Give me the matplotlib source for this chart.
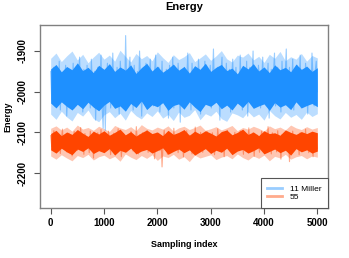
import numpy as np
import matplotlib
matplotlib.use("Agg")
import matplotlib.pyplot as plt

plt.rcParams["font.family"] = ["Liberation Sans", "DejaVu Sans"]

# energy traces (thinned samples)
energy_miller = [
    -1950, -2020, -1975, -1940, -2035, -1990, -1960, -2010, -1925, -2045, -1980, -1955, -2025, -1970, -1935, -2060, -1995, -1945, -2015, -1965, -2005, -1930, -2040, -1985, -1950,
    -2030, -1960, -1915, -2010, -1975, -2050, -1945, -1990, -2020, -1935, -2000, -1965, -2040, -1920, -1985, -2015, -1950, -2070, -1970, -1940, -2025, -1995, -1910, -2035, -2090,
    -1960, -2095, -1975, -1930, -2015, -1950, -2040, -1985, -1905, -2005, -1960, -2030, -1940, -1995, -2055, -1925, -1970, -2010, -1945, -2020, -1862, -1990, -2035, -1955, -1915,
    -2000, -1965, -2045, -1935, -1980, -2025, -1950, -2010, -1900, -1975, -2060, -1945, -1990, -2015, -1930, -1970, -2040, -1960, -1920, -2005, -1985, -2035, -1950, -1910, -2020,
    -1975, -1940, -2050, -1995, -1925, -2010, -1960, -2030, -1945, -1985, -2065, -1935, -1970, -2000, -1915, -2040, -1955, -1990, -2020, -1930, -1980, -2075, -1950, -1965, -2010,
    -1940, -2025, -1975, -1905, -2000, -1960, -2045, -1930, -1985, -2015, -1950, -1995, -2035, -1920, -1970, -2055, -1945, -2005, -1965, -1925, -2030, -1980, -1955, -2010, -1935,
    -2040, -1975, -1895, -2000, -1960, -2025, -1940, -1990, -2070, -1950, -1915, -2015, -1970, -2035, -1930, -1985, -2005, -1945, -2050, -1965, -1920, -2020, -1980, -1940, -2000,
    -1960, -2030, -1910, -1995, -2045, -1950, -1975, -2015, -1925, -2060, -1985, -1940, -2005, -1970, -1900, -2035, -1955, -1990, -2020, -1935, -1965, -2040, -1980, -1915, -2010,
    -1950, -2025, -1975, -1930, -2065, -1995, -1945, -2010, -1960, -1905, -2035, -1980, -1940, -2020, -1970, -2050, -1925, -1990, -2005, -1955, -1895, -2030, -1965, -1940, -2015,
    -1985, -1920, -2045, -1960, -2000, -1935, -2025, -1975, -1910, -2040, -1950, -1995, -2015, -1930, -1970, -2055, -1945, -1985, -2020, -1905, -1965, -2035, -1950, -1925, -2000,
]
energy_55 = [
    -2108, -2135, -2118, -2096, -2142, -2125, -2104, -2131, -2114, -2152, -2120, -2092, -2138, -2127, -2110, -2148, -2122, -2102, -2133, -2116, -2158, -2119, -2098, -2140, -2124,
    -2144, -2109, -2128, -2088, -2134, -2117, -2154, -2103, -2139, -2123, -2112, -2150, -2097, -2132, -2119, -2163, -2107, -2129, -2145, -2101, -2124, -2137, -2093, -2133, -2118,
    -2149, -2106, -2127, -2139, -2097, -2121, -2155, -2113, -2134, -2102, -2143, -2117, -2128, -2091, -2138, -2112, -2160, -2123, -2103, -2135, -2116, -2148, -2108, -2129, -2140,
    -2098, -2122, -2146, -2111, -2133, -2086, -2127, -2153, -2106, -2139, -2118, -2101, -2144, -2124, -2132, -2096, -2149, -2117, -2128, -2107, -2138, -2113, -2165, -2123, -2102,
    -2133, -2116, -2145, -2108, -2185, -2126, -2095, -2137, -2112, -2154, -2121, -2100, -2134, -2117, -2143, -2090, -2128, -2139, -2106, -2150, -2118, -2132, -2101, -2122, -2160,
    -2111, -2138, -2096, -2127, -2144, -2107, -2121, -2153, -2116, -2133, -2087, -2126, -2142, -2112, -2137, -2100, -2123, -2149, -2106, -2132, -2117, -2097, -2143, -2127, -2113,
    -2139, -2101, -2126, -2155, -2116, -2133, -2091, -2122, -2145, -2106, -2138, -2117, -2160, -2111, -2128, -2095, -2142, -2121, -2132, -2107, -2150, -2118, -2100, -2137, -2127,
    -2112, -2144, -2096, -2133, -2121, -2154, -2106, -2138, -2116, -2128, -2089, -2143, -2111, -2132, -2101, -2159, -2122, -2137, -2107, -2127, -2149, -2117, -2097, -2133, -2123,
    -2143, -2108, -2127, -2086, -2138, -2116, -2153, -2101, -2132, -2122, -2111, -2148, -2096, -2137, -2117, -2166, -2106, -2128, -2144, -2100, -2121, -2139, -2112, -2172, -2118,
    -2133, -2097, -2145, -2122, -2107, -2138, -2116, -2155, -2101, -2127, -2143, -2111, -2134, -2092, -2139, -2121, -2150, -2106, -2128, -2117, -2160, -2102, -2133, -2123, -2140,
]
# dense core of each trace (where the 5000 overlapping samples saturate), every 100 steps
miller_core_hi = [
    -1944, -1933, -1951, -1938, -1946, -1929, -1948, -1940, -1953, -1935,
    -1945, -1931, -1950, -1939, -1947, -1934, -1955, -1941, -1930, -1949,
    -1937, -1952, -1943, -1932, -1947, -1938, -1954, -1936, -1945, -1930,
    -1950, -1940, -1933, -1948, -1942, -1956, -1935, -1944, -1931, -1949,
    -1939, -1953, -1934, -1946, -1940, -1951, -1932, -1945, -1937, -1950,
    -1941,
]
miller_core_lo = [
    -2028, -2040, -2025, -2036, -2045, -2031, -2042, -2026, -2038, -2047,
    -2033, -2024, -2041, -2035, -2048, -2029, -2039, -2023, -2044, -2032,
    -2037, -2027, -2046, -2034, -2030, -2043, -2025, -2038, -2049, -2031,
    -2036, -2026, -2042, -2033, -2045, -2028, -2039, -2024, -2041, -2035,
    -2030, -2046, -2027, -2038, -2032, -2044, -2025, -2040, -2034, -2029,
    -2037,
]
c55_core_hi = [
    -2103, -2095, -2108, -2099, -2105, -2093, -2102, -2110, -2097, -2104,
    -2096, -2107, -2100, -2092, -2106, -2098, -2109, -2101, -2094, -2103,
    -2099, -2108, -2095, -2105, -2100, -2093, -2107, -2097, -2104, -2096,
    -2102, -2109, -2098, -2094, -2106, -2100, -2092, -2105, -2099, -2108,
    -2096, -2103, -2101, -2107, -2094, -2100, -2105, -2098, -2103, -2097,
    -2101,
]
c55_core_lo = [
    -2143, -2151, -2139, -2148, -2155, -2141, -2147, -2138, -2152, -2145,
    -2150, -2140, -2156, -2144, -2149, -2139, -2153, -2146, -2142, -2151,
    -2145, -2138, -2154, -2147, -2141, -2150, -2143, -2156, -2148, -2140,
    -2152, -2144, -2149, -2139, -2155, -2146, -2142, -2151, -2145, -2138,
    -2153, -2147, -2141, -2150, -2144, -2156, -2140, -2148, -2143, -2151,
    -2146,
]
# lighter halo of overlapping samples around each core
miller_halo_hi = [
    -1918, -1905, -1926, -1912, -1900, -1922, -1908, -1929, -1915, -1903,
    -1920, -1910, -1925, -1898, -1913, -1927, -1906, -1919, -1911, -1924,
    -1902, -1916, -1928, -1909, -1921, -1914, -1904, -1926, -1917, -1907,
    -1923, -1912, -1899, -1919, -1927, -1910, -1915, -1905, -1922, -1913,
    -1928, -1908, -1918, -1901, -1924, -1914, -1920, -1906, -1925, -1911,
    -1917,
]
miller_halo_lo = [
    -2055, -2068, -2048, -2062, -2072, -2051, -2060, -2045, -2066, -2074,
    -2057, -2049, -2064, -2053, -2070, -2046, -2059, -2067, -2052, -2061,
    -2047, -2065, -2056, -2071, -2050, -2063, -2058, -2044, -2069, -2054,
    -2060, -2048, -2066, -2073, -2052, -2057, -2064, -2049, -2062, -2055,
    -2070, -2046, -2059, -2067, -2051, -2063, -2056, -2068, -2050, -2061,
    -2054,
]
c55_halo_hi = [
    -2090, -2084, -2094, -2087, -2097, -2082, -2092, -2088, -2095, -2085,
    -2091, -2098, -2083, -2089, -2093, -2086, -2096, -2081, -2090, -2094,
    -2087, -2092, -2084, -2097, -2089, -2085, -2093, -2088, -2082, -2095,
    -2091, -2086, -2094, -2089, -2083, -2096, -2088, -2092, -2085, -2090,
    -2097, -2084, -2091, -2087, -2094, -2082, -2089, -2093, -2086, -2092,
    -2088,
]
c55_halo_lo = [
    -2158, -2166, -2155, -2163, -2170, -2157, -2162, -2154, -2168, -2160,
    -2156, -2165, -2159, -2171, -2153, -2161, -2167, -2157, -2164, -2155,
    -2169, -2158, -2162, -2154, -2166, -2160, -2172, -2156, -2163, -2159,
    -2155, -2167, -2161, -2157, -2165, -2153, -2162, -2168, -2158, -2164,
    -2156, -2170, -2159, -2163, -2154, -2166, -2160, -2157, -2165, -2158,
    -2161,
]
labels = ["11 Miller", "55"]
x_ticks = [0, 1000, 2000, 3000, 4000, 5000]
y_ticks = [-2200, -2100, -2000, -1900]

blue = "#1E90FF"
red = "#FF4500"

idx = np.linspace(0, 5000, len(energy_miller))
core_x = np.linspace(0, 5000, len(miller_core_hi))

fig = plt.figure(figsize=(3.49, 2.58), dpi=100)
ax = fig.add_axes([40 / 349, 50 / 258, 288 / 349, 183 / 258])

ax.fill_between(core_x, miller_halo_lo, miller_halo_hi, color=blue, alpha=0.3, lw=0)
ax.plot(idx, energy_miller, color=blue, alpha=0.45, lw=0.8, label=labels[0])
ax.fill_between(core_x, miller_core_lo, miller_core_hi, color=blue, lw=0)
ax.fill_between(core_x, c55_halo_lo, c55_halo_hi, color=red, alpha=0.3, lw=0)
ax.plot(idx, energy_55, color=red, alpha=0.45, lw=0.8, label=labels[1])
ax.fill_between(core_x, c55_core_lo, c55_core_hi, color=red, lw=0)

ax.set_xlim(-200, 5200)
ax.set_ylim(-2286, -1836)
ax.set_xticks(x_ticks)
ax.set_yticks(y_ticks)
ax.set_xticklabels([str(v) for v in x_ticks], fontsize=7, fontweight="bold")
ax.set_yticklabels([str(v) for v in y_ticks], fontsize=7, fontweight="bold",
                   rotation=90, va="center")
ax.tick_params(length=4, width=0.8, color="#555555", pad=3)
ax.tick_params(axis="y", pad=5)

for s in ax.spines.values():
    s.set_color("#808080")
    s.set_linewidth(1.0)

ax.set_title("Energy", fontsize=8, fontweight="bold", pad=11)
ax.set_xlabel("Sampling index", fontsize=6.5, fontweight="bold", labelpad=9)
ax.set_ylabel("Energy", fontsize=6.5, fontweight="bold", labelpad=4)

leg = ax.legend(loc="lower right", borderaxespad=0, fancybox=False,
                edgecolor="#555555", framealpha=1, fontsize=6,
                handlelength=1.8, handletextpad=0.9, labelspacing=0.1,
                borderpad=0.8)
leg.get_frame().set_linewidth(0.8)
for h in leg.legend_handles:
    h.set_linewidth(2)

fig.savefig("out.png", dpi=100)
